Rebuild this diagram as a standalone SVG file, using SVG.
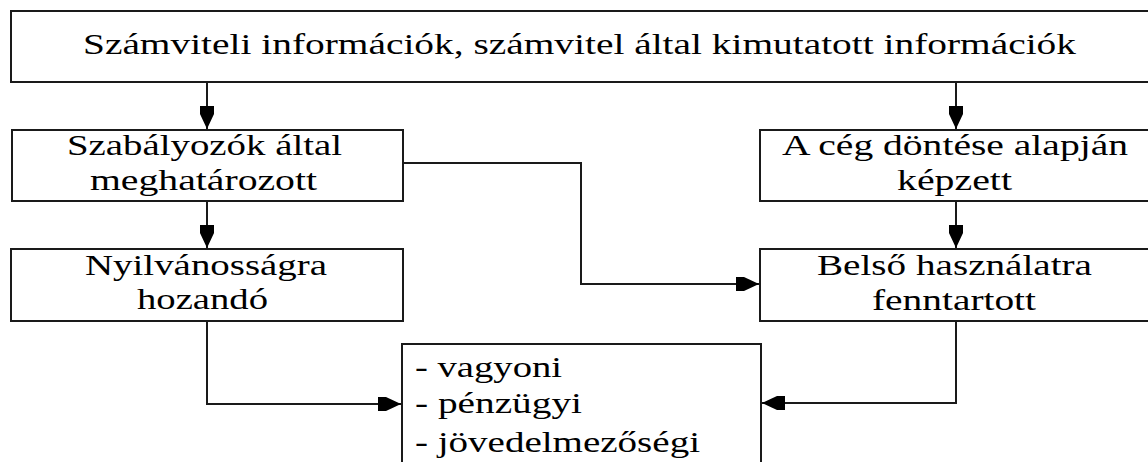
<svg xmlns="http://www.w3.org/2000/svg" width="1148" height="462" viewBox="0 0 1148 462">
<defs>
<style>
.box{fill:#fff;stroke:#1a1a1a;stroke-width:2}
.c{fill:none;stroke:#1a1a1a;stroke-width:2}
</style>
<marker id="ah" markerUnits="userSpaceOnUse" markerWidth="26" markerHeight="16" viewBox="-24 -8 26 16" refX="0" refY="0" orient="auto">
<polygon points="-23,-7 -15,-7 0,0 -15,7 -23,7" fill="#000"/>
</marker>
</defs>
<rect width="1148" height="462" fill="#fff"/>
<g id="connectors">
<path class="c" d="M207,82 V129" marker-end="url(#ah)"/>
<path class="c" d="M956,82 V129" marker-end="url(#ah)"/>
<path class="c" d="M207,201 V248" marker-end="url(#ah)"/>
<path class="c" d="M956,201 V248" marker-end="url(#ah)"/>
<path class="c" d="M403,163 H581 V284 H759" marker-end="url(#ah)"/>
<path class="c" d="M207,321 V404 H401" marker-end="url(#ah)"/>
<path class="c" d="M956,321 V403 H762" marker-end="url(#ah)"/>
</g>
<g font-family="Liberation Serif, serif" font-size="30" fill="#000">
<g id="n-top">
<rect class="box" x="11" y="11" width="1150" height="71"/>
<text x="83" y="54" textLength="993" lengthAdjust="spacingAndGlyphs">Számviteli információk, számvitel által kimutatott információk</text>
</g>
<g id="n-szabalyozok">
<rect class="box" x="12" y="130" width="391" height="71"/>
<text x="67" y="155" textLength="275" lengthAdjust="spacingAndGlyphs">Szabályozók által</text>
<text x="90" y="190" textLength="227" lengthAdjust="spacingAndGlyphs">meghatározott</text>
</g>
<g id="n-ceg">
<rect class="box" x="760" y="130" width="400" height="71"/>
<text x="782" y="155" textLength="346" lengthAdjust="spacingAndGlyphs">A cég döntése alapján</text>
<text x="897" y="190" textLength="115" lengthAdjust="spacingAndGlyphs">képzett</text>
</g>
<g id="n-nyilvanos">
<rect class="box" x="11" y="249" width="392" height="72"/>
<text x="85" y="275" textLength="242" lengthAdjust="spacingAndGlyphs">Nyilvánosságra</text>
<text x="137" y="309" textLength="131" lengthAdjust="spacingAndGlyphs">hozandó</text>
</g>
<g id="n-belso">
<rect class="box" x="760" y="249" width="400" height="72"/>
<text x="817" y="275" textLength="275" lengthAdjust="spacingAndGlyphs">Belső használatra</text>
<text x="872" y="310" textLength="164" lengthAdjust="spacingAndGlyphs">fenntartott</text>
</g>
<g id="n-kimutatas">
<rect class="box" x="402" y="344" width="359" height="130"/>
<text x="415" y="377" textLength="147" lengthAdjust="spacingAndGlyphs">- vagyoni</text>
<text x="415" y="413" textLength="167" lengthAdjust="spacingAndGlyphs">- pénzügyi</text>
<text x="415" y="452" textLength="285" lengthAdjust="spacingAndGlyphs">- jövedelmezőségi</text>
</g>
</g>
</svg>
